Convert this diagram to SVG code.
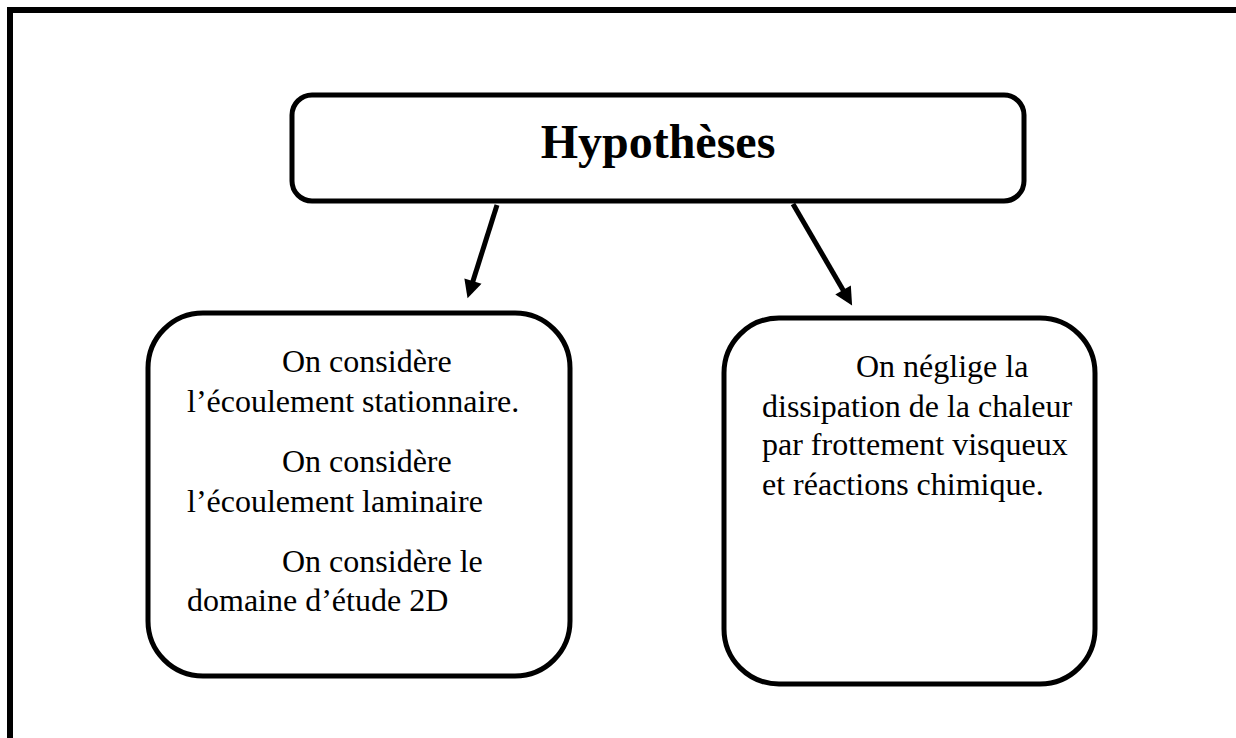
<svg xmlns="http://www.w3.org/2000/svg" width="1236" height="738" viewBox="0 0 1236 738">
<style>
.box{fill:#fff;stroke:#000;stroke-width:5}
.t{font-family:"Liberation Serif","Times New Roman",serif;font-size:32px;fill:#000}
.h{font-family:"Liberation Serif","Times New Roman",serif;font-size:48px;font-weight:bold;fill:#000}
.conn{stroke:#000;stroke-width:5;fill:none}
</style>
<defs>
<marker id="arr" viewBox="0 0 10 10" refX="5.45" refY="5" markerWidth="22" markerHeight="18" markerUnits="userSpaceOnUse" orient="auto">
<path d="M0,0 L10,5 L0,10 z" fill="#000"/>
</marker>
</defs>
<rect width="1236" height="738" fill="#fff"/>
<path d="M10,738 V10 H1236" fill="none" stroke="#000" stroke-width="6"/>
<g id="connectors">
<line class="conn" x1="497" y1="205" x2="470" y2="290.5" marker-end="url(#arr)"/>
<line class="conn" x1="793" y1="204" x2="848" y2="298.4" marker-end="url(#arr)"/>
</g>
<g id="hypotheses">
<rect class="box" x="292" y="95" width="732" height="106" rx="20" ry="20"/>
<text class="h" x="658" y="158" text-anchor="middle">Hypothèses</text>
</g>
<g id="left">
<rect class="box" x="148" y="313" width="422" height="363" rx="55" ry="55"/>
<text class="t" x="282" y="372">On considère</text>
<text class="t" x="187" y="412">l’écoulement stationnaire.</text>
<text class="t" x="282" y="472">On considère</text>
<text class="t" x="187" y="512">l’écoulement laminaire</text>
<text class="t" x="282" y="572">On considère le</text>
<text class="t" x="187" y="611">domaine d’étude 2D</text>
</g>
<g id="right">
<rect class="box" x="724" y="318" width="371" height="366" rx="55" ry="55"/>
<text class="t" x="856" y="377">On néglige la</text>
<text class="t" x="762" y="417">dissipation de la chaleur</text>
<text class="t" x="762" y="455">par frottement visqueux</text>
<text class="t" x="762" y="495">et réactions chimique.</text>
</g>
</svg>
